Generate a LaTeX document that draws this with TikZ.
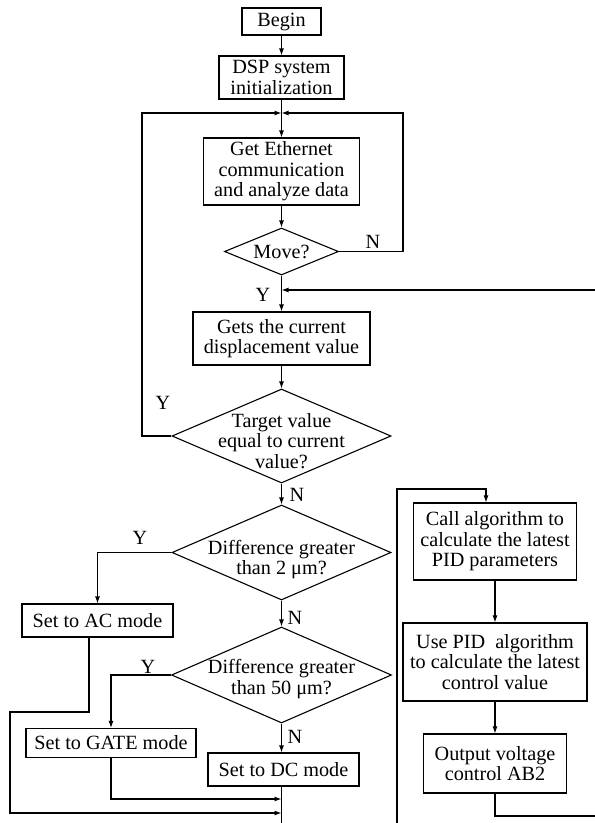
\documentclass[tikz,border=0pt]{standalone}
\usepackage{fontspec}
\setmainfont{Liberation Serif}
\usetikzlibrary{shapes.geometric,arrows.meta}

\begin{document}
\begin{tikzpicture}[
    x=1pt, y=-1pt,
    line width=1.1pt,
    every node/.style={font=\fontsize{20.2}{20.5}\selectfont},
    proc/.style={draw, rectangle, align=center, inner sep=0pt},
    decide/.style={draw, diamond, inner sep=0pt},
    yn/.style={inner sep=0pt},
    flow/.style={-{Latex[length=7pt,width=5pt]}},
  ]
  \useasboundingbox (0,0) rectangle (595,823);

  \node[proc, minimum width=79pt, minimum height=27pt] (begin) at (281.5,21.5) {Begin};
  \node[proc, minimum width=125pt, minimum height=43pt] (init) at (281.5,77.5) {DSP system\\initialization};
  \node[proc, minimum width=156pt, minimum height=67pt] (eth) at (281.5,171.5) {Get Ethernet\\communication\\and analyze data};
  \node[decide, minimum width=114pt, minimum height=47pt,
    label={center:Move?}] (move) at (281.5,251.5) {};
  \node[proc, minimum width=177pt, minimum height=53pt] (gets) at (281.5,338.5) {Gets the current\\displacement value};
  \node[decide, minimum width=219pt, minimum height=94pt,
    label={[align=center, yshift=-5pt]center:Target value\\equal to current\\value?}] (tgt) at (281.5,436) {};
  \node[decide, minimum width=219pt, minimum height=95pt,
    label={[align=center, yshift=-7pt]center:Difference greater\\than 2 μm?}] (dif2) at (281.5,552.5) {};
  \node[decide, minimum width=220pt, minimum height=96pt,
    label={[align=center, yshift=-4pt]center:Difference greater\\than 50 μm?}] (dif50) at (281.5,675) {};
  \node[proc, minimum width=151pt, minimum height=33pt] (ac) at (97.5,620.5) {Set to AC mode};
  \node[proc, minimum width=170pt, minimum height=29pt] (gate) at (111,743) {Set to GATE mode};
  \node[proc, minimum width=151pt, minimum height=33pt] (dc) at (283.5,769.5) {Set to DC mode};
  \node[proc, minimum width=163pt, minimum height=77pt] (call) at (495,541.5) {Call algorithm to\\calculate the latest\\PID parameters};
  \node[proc, minimum width=184pt, minimum height=78pt] (pid) at (495,662) {Use PID~ algorithm\\to calculate the latest\\control value};
  \node[proc, minimum width=143pt, minimum height=59pt] (out) at (495,763.5) {Output voltage\\control AB2};

  \node[yn] (nMove) at (373,242) {N};
  \node[yn] (yMove) at (263,295) {Y};
  \node[yn] (yTgt) at (163,403) {Y};
  \node[yn] (nTgt) at (297,495) {N};
  \node[yn] (yDif2) at (140,538) {Y};
  \node[yn] (nDif2) at (295,618) {N};
  \node[yn] (yDif50) at (148,667) {Y};
  \node[yn] (nDif50) at (295,737) {N};

  \coordinate (join) at (281.5,113);
  \coordinate (ret) at (281.5,290);
  \coordinate (mGate) at (281.5,799);
  \coordinate (mAc) at (281.5,813);

  \draw[flow] (begin.south) -- (init.north);
  \draw[flow] (init.south) -- (eth.north);
  \draw[flow] (eth.south) -- (move.north);
  \draw[flow] (move.east) -| (403,113) -- (join);
  \draw[flow] (tgt.west) -| (142,113) -- (join);
  \draw[flow] (move.south) -- (gets.north);
  \draw[flow] (out.south) |- (610,816) -- (610,290) -- (ret);
  \draw[flow] (gets.south) -- (tgt.north);
  \draw[flow] (tgt.south) -- (dif2.north);
  \draw[flow] (dif2.west) -| (ac.north);
  \draw[flow] (dif2.south) -- (dif50.north);
  \draw[flow] (dif50.west) -| (gate.north);
  \draw[flow] (dif50.south) -- (dif50.south |- dc.north);
  \draw[flow] (gate.south) |- (mGate);
  \draw[flow] ([xshift=-8.5pt]ac.south) |- (10,712) -- (10,813) -- (mAc);
  \draw[flow] (dc.south -| ret) -- (281.5,835) -| (397,489) -| ([xshift=-9pt]call.north);
  \draw[flow] (call.south) -- (pid.north);
  \draw[flow] (pid.south) -- (out.north);
\end{tikzpicture}
\end{document}
